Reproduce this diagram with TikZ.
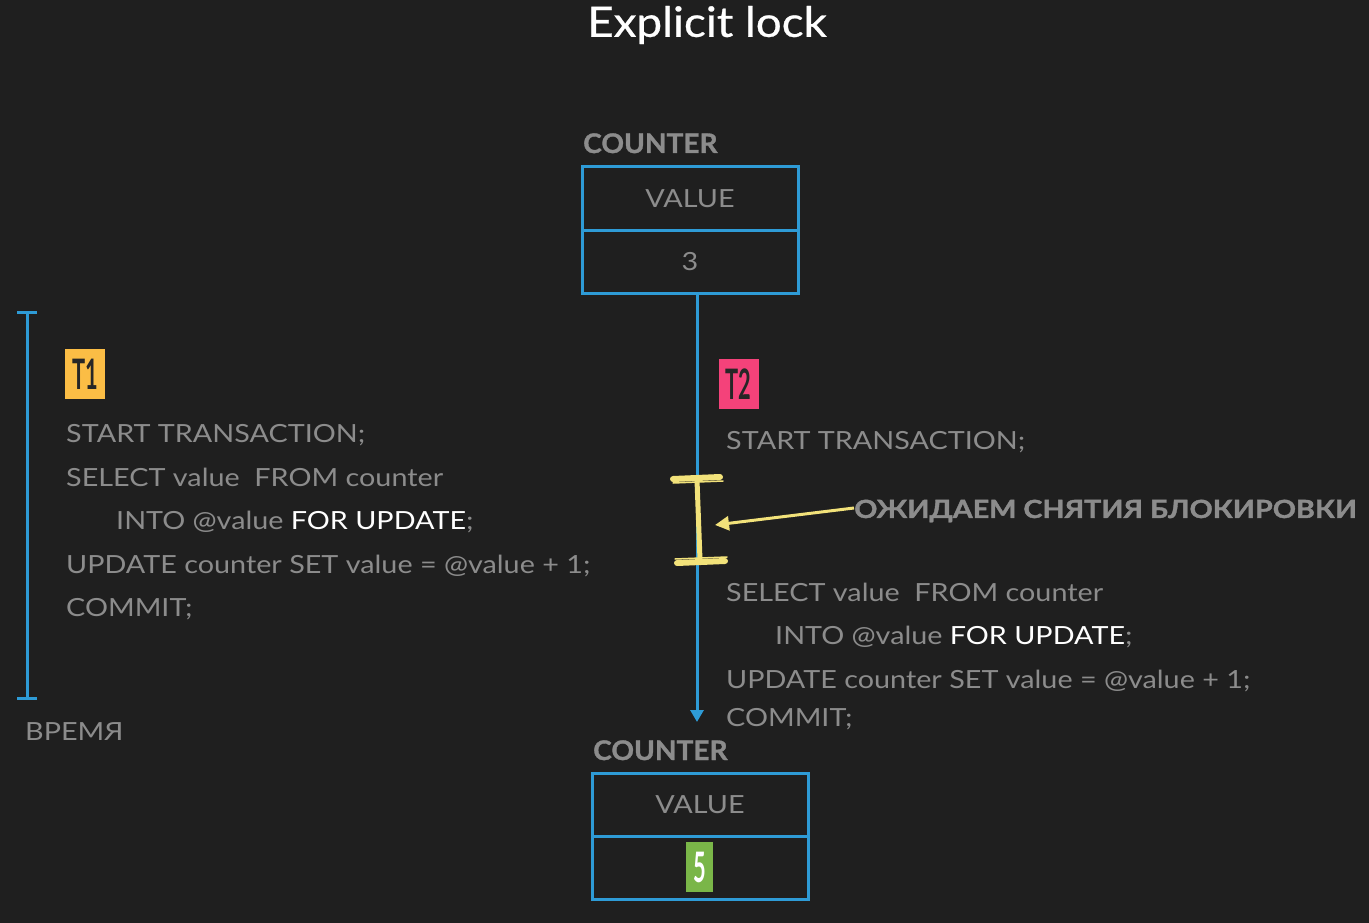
\documentclass[tikz,border=0pt]{standalone}
\usepackage{fontspec}
\setmainfont{Lato}
\newfontfamily\codefont{Lato}[FakeStretch=1.15]
\newfontfamily\titlefont{Lato}[FakeStretch=1.09, FakeBold=0.6]
\newfontfamily\headfont{Lato}[FakeStretch=1.04, BoldFeatures={FakeBold=1.2}]
\newfontfamily\labelfont{Lato}[FakeStretch=1.15, BoldFeatures={FakeBold=1.5}]
\usetikzlibrary{arrows.meta}
\definecolor{bg}{HTML}{1F1F1F}
\definecolor{bl}{HTML}{2E9BD6}
\definecolor{gr}{HTML}{8C8C8C}
\definecolor{yb}{HTML}{FBBD45}
\definecolor{pk}{HTML}{F4427A}
\definecolor{gn}{HTML}{7AB648}
\definecolor{yl}{HTML}{F2E27A}
\tikzset{
  cell/.style={draw=bl, line width=3pt, minimum width=216pt, minimum height=63pt, inner sep=0pt, text=gr, font=\codefont\fontsize{25}{30}\selectfont},
  codeline/.style={anchor=base west, inner sep=0pt, text=gr, font=\codefont\fontsize{25}{30}\selectfont},
  tablehead/.style={anchor=base west, inner sep=0pt, text=gr, font=\headfont\fontsize{27}{30}\selectfont\bfseries},
  badge/.style={inner sep=0pt, minimum width=40pt, minimum height=50pt, text=black!85, font=\fontsize{42}{42}\selectfont\bfseries},
  flow/.style={draw=bl, line width=3pt},
  lockstroke/.style={draw=yl, line width=5pt, line cap=round},
}
\newcommand{\cond}[1]{\scalebox{0.52}[1]{#1}}
\begin{document}
\begin{tikzpicture}[x=1pt,y=-1pt]
\fill[bg] (0,0) rectangle (1369,923);
\useasboundingbox (0,0) rectangle (1369,923);

% title
\node (title) at (707,25) [text=white, font=\titlefont\fontsize{42}{46}\selectfont] {Explicit lock};

% top table
\node[tablehead] (head1) at (583,153) {COUNTER};
\node[cell] (val1) at (690,198.5) {VALUE};
\node[cell] (num1) at (690,261.5) {3};

% flow arrow
\coordinate (flowtop) at (697,293);
\coordinate (flowend) at (697,722);
\draw[flow, -{Triangle[width=13pt,length=12pt]}] (flowtop) -- (flowend);

% bottom table
\node[tablehead] (head2) at (593,760) {COUNTER};
\node[cell] (val2) at (700,804.5) {VALUE};
\node[cell] (num2) at (700,867.5) {};
\node[badge, fill=gn, minimum width=27pt, minimum height=50pt, text=white] (five) at (699.5,867) {\cond{5}};

% time axis
\coordinate (tatop) at (27,311);
\coordinate (tabot) at (27,700);
\draw[flow, {Bar[width=20pt]}-{Bar[width=20pt]}] (tatop) -- (tabot);
\node[codeline] (time) at (25,740) {ВРЕМЯ};

% T1
\node[badge, fill=yb] (t1) at (85,374) {\cond{T1}};
\node[codeline] (l1) at (66,442) {START TRANSACTION;};
\node[codeline] (l2) at (66,486) {SELECT value\ \ FROM counter};
\node[codeline] (l3) at (116,529) {INTO @value \textcolor{white}{FOR UPDATE};};
\node[codeline] (l4) at (66,573) {UPDATE counter SET value = @value + 1;};
\node[codeline] (l5) at (66,616) {COMMIT;};

% T2
\node[badge, fill=pk] (t2) at (738.5,384) {\cond{T2}};
\node[codeline] (r1) at (726,449) {START TRANSACTION;};
\node[codeline] (r2) at (726,601) {SELECT value\ \ FROM counter};
\node[codeline] (r3) at (775,644) {INTO @value \textcolor{white}{FOR UPDATE};};
\node[codeline] (r4) at (726,688) {UPDATE counter SET value = @value + 1;};
\node[codeline] (r5) at (726,726) {COMMIT;};

% lock symbol
\coordinate (lka) at (673,479);
\coordinate (lkb) at (720,477);
\coordinate (lkc) at (697,480);
\coordinate (lkd) at (700,560);
\coordinate (lke) at (677,563);
\coordinate (lkf) at (725,561);
\draw[lockstroke, line width=6pt] (lka) -- (lkb);
\draw[lockstroke] (lkc) -- (lkd);
\draw[lockstroke, line width=6pt] (lke) -- (lkf);
\draw[draw=yl, line width=1.5pt, line cap=round] ([yshift=-4pt]lka) -- ([yshift=-4pt,xshift=3pt]lkb);
\draw[draw=yl, line width=1.5pt, line cap=round] ([yshift=4pt,xshift=-2pt]lke) -- ([yshift=4pt,xshift=2pt]lkf);

% waiting label
\node[anchor=west, inner sep=0pt, text=gr, font=\labelfont\fontsize{25}{30}\selectfont\bfseries] (wait) at (854,511) {ОЖИДАЕМ СНЯТИЯ БЛОКИРОВКИ};
\coordinate (waittip) at (715,525);
\draw[draw=yl, line width=3pt, -{Triangle[width=14pt,length=14pt]}] ([yshift=3pt]wait.west) -- (waittip);
\end{tikzpicture}
\end{document}
